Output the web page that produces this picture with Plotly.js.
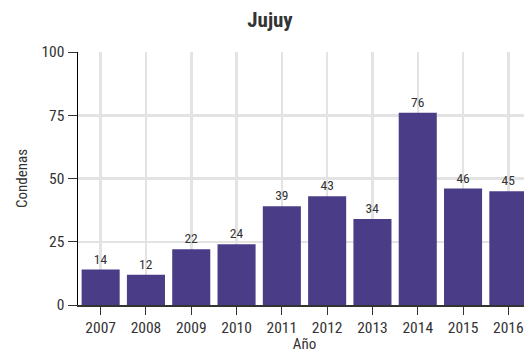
<!DOCTYPE html>
<html><head><meta charset="utf-8">
<script src="https://cdn.plot.ly/plotly-3.0.1.min.js"></script>
<style>html,body{margin:0;padding:0;overflow:hidden;background:#fff;width:524px;height:353px}</style>
</head><body>
<div id="chart"></div>
<script>
const years = ["2007","2008","2009","2010","2011","2012","2013","2014","2015","2016"];
const condenas = [14, 12, 22, 24, 39, 43, 34, 76, 46, 45];
const yTicks = [0, 25, 50, 75, 100];

const FONT = "Roboto Condensed, Liberation Sans Narrow, DejaVu Sans Condensed, Roboto, sans-serif";

Plotly.newPlot("chart", [{
  type: "bar",
  x: years,
  y: condenas,
  text: condenas.map(String),
  textposition: "outside",
  textfont: {family: FONT, size: 13.5, color: "#333"},
  cliponaxis: false,
  marker: {color: "#4b3c88"},
  hoverinfo: "x+y"
}], {
  width: 540, height: 353,
  margin: {l: 78, r: 9, t: 52, b: 48},
  paper_bgcolor: "rgba(0,0,0,0)",
  plot_bgcolor: "rgba(0,0,0,0)",
  bargap: 0.16,
  font: {family: FONT, size: 15, color: "#333"},
  title: {text: "<b>Jujuy</b>", x: 0.5, xanchor: "center", y: 0.945, yanchor: "middle",
          font: {family: FONT, size: 21, color: "#333"}},
  xaxis: {
    type: "category",
    range: [-0.5, 9.5],
    showgrid: true, gridcolor: "#e3e3e3", gridwidth: 2.5,
    showline: true, linecolor: "#333", linewidth: 1.5,
    ticks: "outside", ticklen: 8, tickcolor: "#333",
    tickfont: {family: FONT, size: 15.5, color: "#333"},
    title: {text: "Año", font: {family: FONT, size: 15, color: "#333"}, standoff: 4},
    zeroline: false
  },
  yaxis: {
    range: [0, 100],
    tickvals: yTicks,
    showgrid: true, gridcolor: "#e3e3e3", gridwidth: 2.5,
    showline: true, linecolor: "#000", linewidth: 1.5,
    ticks: "outside", ticklen: 9, tickcolor: "#333",
    tickfont: {family: FONT, size: 15.5, color: "#333"},
    title: {text: "Condenas", font: {family: FONT, size: 15, color: "#333"}, standoff: 10},
    zeroline: false
  },
  showlegend: false
}, {displayModeBar: false, staticPlot: true});
</script>
</body></html>
